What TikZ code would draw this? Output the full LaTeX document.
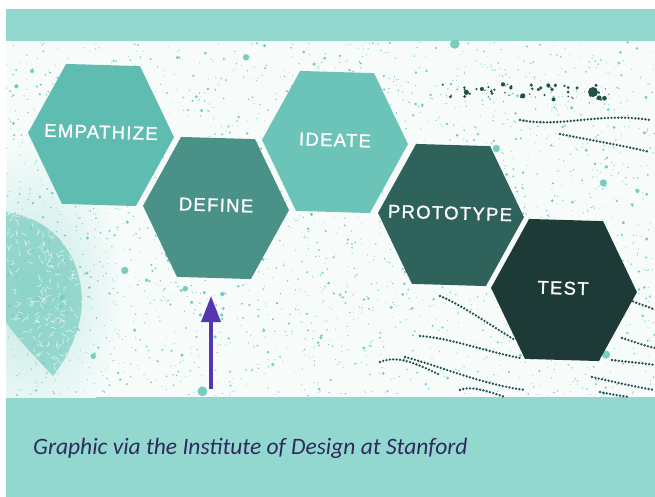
\documentclass[tikz,border=0pt]{standalone}
\usepackage{fontspec}
\newfontfamily\hexfont[LetterSpace=7,FakeBold=1.2]{Liberation Sans}
\newfontfamily\capfont{Carlito}
\usetikzlibrary{arrows.meta}
\definecolor{band}{RGB}{147,216,207}
\definecolor{paper}{RGB}{247,252,251}
\definecolor{speckc}{RGB}{120,204,192}
\definecolor{inkc}{RGB}{36,80,74}
\definecolor{hexE}{RGB}{94,188,176}
\definecolor{hexD}{RGB}{74,145,136}
\definecolor{hexI}{RGB}{108,196,185}
\definecolor{hexP}{RGB}{48,98,92}
\definecolor{hexT}{RGB}{30,58,54}
\definecolor{captc}{RGB}{46,42,94}
\definecolor{arrowc}{RGB}{85,53,178}
\newcommand{\hexshape}[3]{%
  \fill[#3, rotate around={-1.7:(#1,#2)}] (#1-37,#2-70) -- (#1+37,#2-70) -- (#1+73,#2) -- (#1+37,#2+70) -- (#1-37,#2+70) -- (#1-73,#2) -- cycle;}
\tikzset{
  hextext/.style={text=white, font=\hexfont\fontsize{18.5}{20}\selectfont, inner sep=0pt, rotate=-1.7},
  dotline/.style={draw=inkc, line width=2.6pt, line cap=round, dash pattern=on 0pt off 3.4pt},
  speck/.style={fill=speckc},
}
\begin{document}
\begin{tikzpicture}[x=1pt,y=-1pt]
\useasboundingbox (0,0) rectangle (655,497);
\fill[white] (0,0) rectangle (655,497);
% bands
\fill[band] (6,9) rectangle (655,41);
\fill[paper] (6,41) rectangle (655,397);
\fill[band] (6,397) rectangle (655,497);
\begin{scope}
\clip (6,41) rectangle (655,397);
% haze and fingerprint
\shade[inner color=speckc!45, outer color=paper] (30,290) ellipse[x radius=95pt, y radius=150pt];
\begin{scope}
\clip (6,212) .. controls (50,218) and (80,250) .. (82,300) .. controls (82,330) and (66,360) .. (53,376) .. controls (30,352) and (12,332) .. (6,322) -- cycle;
\fill[speckc, opacity=0.7] (0,200) rectangle (90,380);
\pgfmathsetseed{3}
\foreach \i in {1,...,260}{
  \pgfmathsetmacro\px{6+78*rnd}
  \pgfmathsetmacro\py{210+170*rnd}
  \pgfmathsetmacro\pa{360*rnd}
  \draw[white, opacity=0.5, line width=0.9pt] (\px,\py) arc[start angle=\pa, delta angle=50, radius=6pt];
}
\end{scope}
% speckles
\pgfmathsetseed{7}
\foreach \i in {1,...,2600}{
  \pgfmathsetmacro\px{6+649*rnd}
  \pgfmathsetmacro\py{42+354*rnd}
  \pgfmathsetmacro\pr{0.45+2.1*rnd*rnd*rnd}
  \fill[speck] (\px,\py) circle[radius=\pr pt];
}
\foreach \i in {1,...,18}{
  \pgfmathsetmacro\px{6+649*rnd}
  \pgfmathsetmacro\py{42+354*rnd}
  \pgfmathsetmacro\pr{2.5+2.5*rnd}
  \fill[speck] (\px,\py) circle[radius=\pr pt];
}
% dark splotches top right
\foreach \i in {1,...,55}{
  \pgfmathsetmacro\px{440+170*rnd}
  \pgfmathsetmacro\py{84+16*rnd}
  \pgfmathsetmacro\pr{0.6+2.4*rnd*rnd}
  \fill[inkc] (\px,\py) circle[radius=\pr pt];
}
\fill[inkc] (593,92) circle[radius=5pt];
% dark wavy dotted lines
\draw[dotline] (560,134) .. controls (590,140) and (620,145) .. (650,152);
\draw[dotline] (520,120) .. controls (560,128) and (600,112) .. (650,120);
\draw[dotline] (440,296) .. controls (460,304) and (490,325) .. (515,340);
\draw[dotline] (420,336) .. controls (450,338) and (480,350) .. (520,358);
\draw[dotline] (405,357) .. controls (440,366) and (480,384) .. (525,390);
\draw[dotline] (380,362) .. controls (395,356) and (410,360) .. (440,375);
\draw[dotline] (460,390) .. controls (470,385) and (490,392) .. (505,397);
\draw[dotline] (630,300) .. controls (640,305) and (648,306) .. (655,310);
\draw[dotline] (622,338) .. controls (635,342) and (645,346) .. (655,348);
\draw[dotline] (612,360) .. controls (628,362) and (642,363) .. (655,365);
\draw[dotline] (592,377) .. controls (615,382) and (640,388) .. (655,390);
\draw[dotline] (600,392) .. controls (610,394) and (620,396) .. (630,397);
\end{scope}
% hexagons
\hexshape{101}{135}{hexE}
\hexshape{216}{208}{hexD}
\hexshape{335}{142}{hexI}
\hexshape{451}{215}{hexP}
\hexshape{564}{290}{hexT}
\node[hextext] (empathize) at (101,132) {EMPATHIZE};
\node[hextext] (define) at (216,205) {DEFINE};
\node[hextext] (ideate) at (335,140) {IDEATE};
\node[hextext] (prototype) at (450,213) {PROTOTYPE};
\node[hextext] (test) at (563,288) {TEST};
% arrow
\coordinate (arrowtail) at (211,389);
\coordinate (arrowtip) at (211,296);
\draw[arrowc, line width=4pt, -{Triangle[width=19pt,length=26pt]}] (arrowtail) -- (arrowtip);
% caption
\node[anchor=base west, inner sep=0pt, text=captc, font=\capfont\itshape\fontsize{23.5}{26}\selectfont] (caption) at (33,454) {Graphic via the Institute of Design at Stanford};
\end{tikzpicture}
\end{document}
